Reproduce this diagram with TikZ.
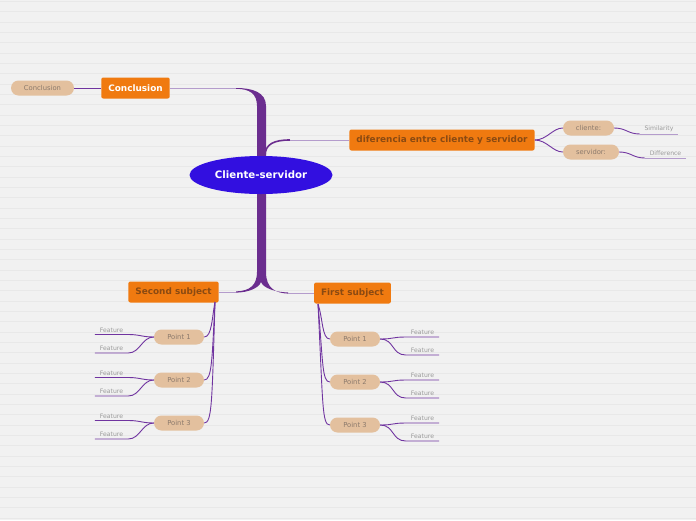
\documentclass[tikz,border=0pt]{standalone}
\usepackage{fontspec}
\setmainfont{DejaVu Sans}
\usetikzlibrary{shapes.geometric}
\definecolor{bgc}{HTML}{F1F1F1}
\definecolor{rulec}{HTML}{E8E8E8}
\definecolor{centrec}{HTML}{320FE0}
\definecolor{trunkc}{HTML}{6B2D8F}
\definecolor{linkc}{HTML}{7034A0}
\definecolor{lightc}{HTML}{B49CCC}
\definecolor{orangec}{HTML}{F07A10}
\definecolor{pillc}{HTML}{E3C09E}
\definecolor{browntxt}{HTML}{8A4A12}
\definecolor{pilltxt}{HTML}{8C7A6C}
\definecolor{feattxt}{HTML}{9A9A9A}
\tikzset{
  subj/.style={fill=orangec, rounded corners=2pt, text=browntxt, font=\bfseries\fontsize{8.9}{10}\selectfont, minimum height=21, inner xsep=7},
  pill/.style={fill=pillc, rounded corners=7.5pt, text=pilltxt, font=\fontsize{6.8}{8}\selectfont, minimum height=15, minimum width=50},
  feat/.style={text=feattxt, font=\fontsize{6.1}{7}\selectfont, anchor=south, inner xsep=0, inner ysep=1.8, minimum width=33},
  conn/.style={linkc, line width=0.9},
  thin/.style={lightc, line width=0.9}
}
\begin{document}
\begin{tikzpicture}[x=1pt,y=-1pt]
\useasboundingbox (0,0) rectangle (696,520);
\fill[bgc] (0,0) rectangle (696,520);
\foreach \i in {0,...,50}{
  \draw[rulec, line width=1] (0,\i*10.33+1.5) -- (696,\i*10.33+1.5);
}
% trunk
\fill[trunkc] (236,88) .. controls (252,88) and (266,92) .. (266,106)
  -- (266,272) .. controls (266,288) and (275,293) .. (288,293.6)
  -- (288,292.4) .. controls (276,292.4) and (263,288) .. (261,282)
  .. controls (259,288) and (248,292.6) .. (236,292.6)
  -- (236,291.4) .. controls (250,291) and (257,285) .. (257,272)
  -- (257,106) .. controls (257,94) and (250,88.8) .. (236,88.8) -- cycle;
\draw[trunkc, line width=1.6] (265,156) .. controls (265,144) and (274,140) .. (290,140);
\node[ellipse, fill=centrec, minimum width=143, minimum height=38, inner sep=0, text=white, font=\bfseries\fontsize{10.2}{11}\selectfont] (centre) at (261,175) {Cliente-servidor};
% main topics
\node[subj, text=white] (concl) at (135.5,88) {Conclusion};
\node[subj] (diff) at (442,140) {diferencia entre cliente y servidor};
\node[subj] (second) at (173.5,292) {Second subject};
\node[subj] (first) at (352.5,293) {First subject};
\draw[thin] (concl.east) -- (236,88);
\draw[thin] (290,140) -- (diff.west);
\draw[thin] (second.east) -- (236,292);
\draw[thin] (288,293) -- (first.west);
% conclusion
\node[pill, minimum width=63] (cpill) at (42.5,88) {Conclusion};
\draw[conn] (concl.west) -- (cpill.east);
% diferencia
\node[pill, minimum width=51] (cli) at (588.5,128) {cliente:};
\node[pill, minimum width=56] (serv) at (591,152) {servidor:};
\node[feat, minimum width=38] (sim) at (659,134) {Similarity};
\node[feat, minimum width=41] (dif) at (665.5,158) {Difference};
\draw[conn] (diff.east) .. controls +(12,0) and +(-10,0) .. (cli.west);
\draw[conn] (diff.east) .. controls +(12,0) and +(-10,0) .. (serv.west);
\draw[conn] (cli.east) .. controls +(12,0) and +(-12,0) .. (sim.south west);
\draw[thin] (sim.south west) -- (sim.south east);
\draw[conn] (serv.east) .. controls +(12,0) and +(-12,0) .. (dif.south west);
\draw[thin] (dif.south west) -- (dif.south east);
% second subject
\foreach \n/\y in {1/337,2/380,3/423}{
  \node[pill] (sp\n) at (179,\y) {Point \n};
  \node[feat] (sa\n) at (111.5,\y-2.5) {Feature};
  \node[feat] (sb\n) at (111.5,\y+16) {Feature};
  \draw[conn] (215,302) .. controls (212,\y-20) and (212,\y) .. (sp\n.east);
  \draw[conn] (sp\n.west) .. controls +(-12,0) and +(12,0) .. (sa\n.south east) -- (sa\n.south west);
  \draw[conn] (sp\n.west) .. controls +(-12,0) and +(12,0) .. (sb\n.south east) -- (sb\n.south west);
}
% first subject
\foreach \n/\y in {1/339,2/382,3/425}{
  \node[pill] (fp\n) at (355,\y) {Point \n};
  \node[feat] (fa\n) at (422.5,\y-2) {Feature};
  \node[feat] (fb\n) at (422.5,\y+16) {Feature};
  \draw[conn] (318,304) .. controls (323,\y-20) and (322,\y) .. (fp\n.west);
  \draw[conn] (fp\n.east) .. controls +(14,0) and +(-14,0) .. (fa\n.south west) -- (fa\n.south east);
  \draw[conn] (fp\n.east) .. controls +(14,0) and +(-14,0) .. (fb\n.south west) -- (fb\n.south east);
}
\end{tikzpicture}
\end{document}
